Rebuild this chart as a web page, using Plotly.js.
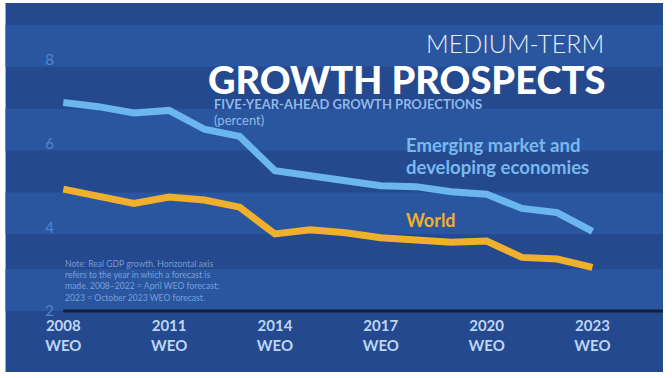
<!DOCTYPE html>
<html>
<head>
<meta charset="utf-8">
<script src="https://cdn.plot.ly/plotly-3.0.1.min.js"></script>
<style>html,body{margin:0;padding:0;background:#fff;}#chart{width:672px;height:378px;}</style>
</head>
<body>
<div id="chart"></div>
<script>
// Data
var years = [2008, 2009, 2010, 2011, 2012, 2013, 2014, 2015, 2016, 2017, 2018, 2019, 2020, 2021, 2022, 2023];
var emerging = [6.98, 6.88, 6.73, 6.79, 6.34, 6.17, 5.35, 5.25, 5.11, 4.99, 4.97, 4.85, 4.79, 4.45, 4.35, 3.90];
var world = [4.91, 4.75, 4.57, 4.72, 4.65, 4.48, 3.84, 3.94, 3.87, 3.75, 3.70, 3.64, 3.67, 3.28, 3.24, 3.04];
var xTickVals = [2008, 2011, 2014, 2017, 2020, 2023];
var xTickText = ['2008<br>WEO', '2011<br>WEO', '2014<br>WEO', '2017<br>WEO', '2020<br>WEO', '2023<br>WEO'];
var yTickVals = [2, 4, 6, 8];
var bandStarts = [2, 3.83, 5.83, 7.83];

var yRange = [2, 8.83];
function py(v) { return (v - yRange[0]) / (yRange[1] - yRange[0]); }

var frameL = -0.0867, frameR = 1.0;
var shapes = [{
  type: 'rect', xref: 'paper', yref: 'paper', layer: 'below',
  x0: frameL, x1: frameR, y0: -0.213, y1: 1.077,
  fillcolor: '#24498f', line: {width: 0}
}];
bandStarts.forEach(function (b) {
  shapes.push({
    type: 'rect', xref: 'paper', yref: 'paper', layer: 'below',
    x0: frameL, x1: frameR, y0: py(b), y1: Math.min(py(b + 1), 1),
    fillcolor: '#2a569f', line: {width: 0}
  });
});
// axis base line
shapes.push({
  type: 'line', xref: 'x', yref: 'paper', layer: 'above',
  x0: 2008, x1: 2025, y0: 0, y1: 0,
  line: {color: '#141e36', width: 3}
});

var traces = [
  {x: years, y: emerging, type: 'scatter', mode: 'lines', name: 'Emerging market and developing economies',
   line: {color: '#6cb6ef', width: 7}, hoverinfo: 'skip'},
  {x: years, y: world, type: 'scatter', mode: 'lines', name: 'World',
   line: {color: '#f1b02b', width: 7}, hoverinfo: 'skip'}
];

var layout = {
  width: 672, height: 378,
  margin: {l: 57.5, r: 9, t: 25, b: 67, pad: 0},
  paper_bgcolor: '#ffffff',
  plot_bgcolor: 'rgba(0,0,0,0)',
  showlegend: false,
  font: {family: 'Lato, "Open Sans", sans-serif'},
  xaxis: {
    range: [2007.85, 2025], showgrid: false, zeroline: false, showline: false,
    tickvals: xTickVals, ticktext: xTickText, ticks: '',
    tickfont: {family: 'Lato', size: 15, color: '#bcd6f4', weight: 'bold'},
    ticklabelstandoff: 4, fixedrange: true
  },
  yaxis: {
    range: yRange, showgrid: false, zeroline: false, showline: false,
    tickvals: yTickVals, ticks: '',
    tickfont: {family: 'Lato', size: 15, color: '#4f86cf'},
    ticklabelstandoff: 3, fixedrange: true
  },
  shapes: shapes,
  annotations: [
    {xref: 'paper', yref: 'paper', x: 0.906, y: 0.937, xanchor: 'right', yanchor: 'middle', showarrow: false,
     text: 'MEDIUM-TERM', font: {family: 'Lato', size: 25, color: '#e9eef8', weight: 300}},
    {xref: 'paper', yref: 'paper', x: 0.908, y: 0.812, xanchor: 'right', yanchor: 'middle', showarrow: false,
     text: 'GROWTH PROSPECTS', font: {family: 'Lato', size: 38, color: '#ffffff', weight: 900}},
    {xref: 'paper', yref: 'paper', x: 0.255, y: 0.725, xanchor: 'left', yanchor: 'middle', showarrow: false,
     text: 'FIVE-YEAR-AHEAD GROWTH PROJECTIONS', font: {family: 'Lato', size: 13, color: '#8db9ea', weight: 'bold'}},
    {xref: 'paper', yref: 'paper', x: 0.255, y: 0.669, xanchor: 'left', yanchor: 'middle', showarrow: false,
     text: '(percent)', font: {family: 'Lato', size: 13, color: '#8db9ea'}},
    {xref: 'paper', yref: 'paper', x: 0.572, y: 0.580, xanchor: 'left', yanchor: 'middle', showarrow: false,
     text: 'Emerging market and', font: {family: 'Lato', size: 18.5, color: '#7ab9ee', weight: 'bold'}},
    {xref: 'paper', yref: 'paper', x: 0.572, y: 0.505, xanchor: 'left', yanchor: 'middle', showarrow: false,
     text: 'developing economies', font: {family: 'Lato', size: 18.5, color: '#7ab9ee', weight: 'bold'}},
    {xref: 'paper', yref: 'paper', x: 0.572, y: 0.318, xanchor: 'left', yanchor: 'middle', showarrow: false,
     text: 'World', font: {family: 'Lato', size: 18, color: '#f1b02b', weight: 'bold'}},
    {xref: 'paper', yref: 'paper', x: 0.009, y: 0.19, xanchor: 'left', yanchor: 'top', showarrow: false, align: 'left',
     text: 'Note: Real GDP growth. Horizontal axis<br>refers to the year in which a forecast is<br>made. 2008–2022 = April WEO forecast;<br>2023 = October 2023 WEO forecast.',
     font: {family: 'Lato', size: 8.6, color: 'rgba(150,185,235,0.75)'}}
  ]
};

Plotly.newPlot('chart', traces, layout, {displayModeBar: false, staticPlot: true});
</script>
</body>
</html>
